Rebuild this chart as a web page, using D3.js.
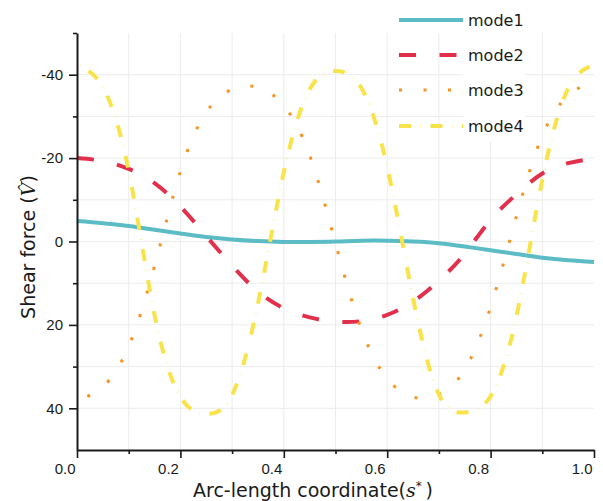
<!DOCTYPE html>
<html>
<head>
<meta charset="utf-8">
<script src="https://cdn.jsdelivr.net/npm/d3@7"></script>
<style>
  html, body { margin: 0; padding: 0; background: #fff; }
  svg { display: block; }
  text { font-family: "DejaVu Sans", sans-serif; fill: #1a1a1a; }
</style>
</head>
<body>
<svg id="chart" width="603" height="501"></svg>
<script>
// Arc-length positions shared by all modes
const arcLength = [0, 0.05, 0.1, 0.15, 0.2, 0.25, 0.3, 0.35, 0.4, 0.45, 0.5,
                   0.55, 0.6, 0.65, 0.7, 0.75, 0.8, 0.85, 0.9, 0.95, 1.0];

// Shear force of each mode shape
const mode1 = [-4.9, -4.4, -3.7, -2.8, -1.9, -1.1, -0.5, -0.1, 0.1, 0.1, 0,
               -0.2, -0.2, 0, 0.4, 1.2, 2.1, 3.0, 3.9, 4.5, 4.9];
const mode2 = [-20, -19.3, -17.4, -14, -8.4, -1.3, 5.8, 12, 16, 18.2, 19.2,
               19.1, 17.6, 14.4, 9.4, 2.9, -5.2, -11.3, -16.3, -18.8, -19.9];
const mode3 = [38, 34.8, 25.1, 5.9, -16.8, -31, -36.5, -37, -32.6, -20.7, 0.4,
               21, 32.9, 37.3, 36.7, 30.7, 15.7, -6.1, -25.4, -35, -38.4];
const mode4 = [-42.3, -37, -16.9, 17.6, 37.3, 41.3, 36.8, 14.9, -16.6, -36.5, -40.9,
               -36.8, -17.9, 13.6, 36.7, 41, 37.1, 18, -14.8, -36.7, -42.3];

const seriesNames = ["mode1", "mode2", "mode3", "mode4"];

// Axis ticks
const xMajorTicks = [0, 0.2, 0.4, 0.6, 0.8, 1.0];
const xMinorTicks = [0.1, 0.3, 0.5, 0.7, 0.9];
const yMajorTicks = [-40, -20, 0, 20, 40];
const yMinorTicks = [-50, -30, -10, 10, 30];
const xGrid = [0.1, 0.2, 0.3, 0.4, 0.5, 0.6, 0.7, 0.8, 0.9];
const yGrid = [-40, -30, -20, -10, 0, 10, 20, 30, 40];

const styles = {
  mode1: { color: "#5bbcc6", width: 4, dash: null, offset: 0 },
  mode2: { color: "#e2304c", width: 4, dash: "17,23.5", offset: 0 },
  mode3: { color: "#f7931e", width: 3, dash: "3,21.5", offset: 13.5 },
  mode4: { color: "#f8e44a", width: 4, dash: "12,9.6,0.3,9.6", offset: 18.5 }
};
const seriesValues = { mode1, mode2, mode3, mode4 };

const svg = d3.select("#chart");
const plotLeft = 77, plotRight = 594, plotTop = 33, plotBottom = 450;

const x = d3.scaleLinear().domain([0, 1]).range([plotLeft, plotRight]);
const y = d3.scaleLinear().domain([-50, 50]).range([plotTop, plotBottom]);

// Grid
const grid = svg.append("g").attr("stroke", "#ececec").attr("stroke-width", 1);
grid.selectAll("line.v").data(xGrid).join("line")
  .attr("class", "v")
  .attr("x1", d => x(d)).attr("x2", d => x(d))
  .attr("y1", plotTop).attr("y2", plotBottom);
grid.selectAll("line.h").data(yGrid).join("line")
  .attr("class", "h")
  .attr("x1", plotLeft).attr("x2", plotRight)
  .attr("y1", d => y(d)).attr("y2", d => y(d));

// Curves
const plot = svg.append("g");
seriesNames.forEach(name => {
  const st = styles[name];
  const pts = arcLength.map((s, i) => [s, seriesValues[name][i]]);
  const line = d3.line().x(d => x(d[0])).y(d => y(d[1])).curve(d3.curveNatural);
  const p = plot.append("path")
    .attr("d", line(pts))
    .attr("fill", "none")
    .attr("stroke", st.color)
    .attr("stroke-width", st.width)
    .attr("stroke-linecap", "butt");
  if (st.dash) p.attr("stroke-dasharray", st.dash).attr("stroke-dashoffset", st.offset);
});

// Axes
function styleAxis(g) {
  g.selectAll(".domain").attr("stroke", "#1a1a1a").attr("stroke-width", 2);
  g.selectAll(".tick line").attr("stroke", "#1a1a1a").attr("stroke-width", 1.6);
  g.selectAll(".tick text")
    .style("font-family", "'Liberation Sans', Arial, sans-serif")
    .style("font-size", "15px").attr("fill", "#1a1a1a");
}

svg.append("g").attr("transform", `translate(0,${plotBottom})`)
  .call(d3.axisBottom(x).tickValues(xMinorTicks).tickSize(4).tickFormat(""))
  .call(styleAxis).call(g => g.select(".domain").remove());
svg.append("g").attr("transform", `translate(0,${plotBottom})`)
  .call(d3.axisBottom(x).tickValues(xMajorTicks).tickSize(8).tickSizeOuter(0)
        .tickPadding(5).tickFormat(d3.format(".1f")))
  .call(styleAxis)
  // labels sit just left of their tick marks
  .call(g => g.selectAll(".tick text").attr("text-anchor", "end").attr("x", -2));

svg.append("g").attr("transform", `translate(${plotLeft},0)`)
  .call(d3.axisLeft(y).tickValues(yMinorTicks).tickSize(4).tickFormat(""))
  .call(styleAxis).call(g => g.select(".domain").remove());
svg.append("g").attr("transform", `translate(${plotLeft},0)`)
  .call(d3.axisLeft(y).tickValues(yMajorTicks).tickSize(8).tickSizeOuter(0)
        .tickPadding(6).tickFormat(d => String(d)))
  .call(styleAxis);

// Axis titles
const xTitle = svg.append("text")
  .attr("x", 313).attr("y", 497)
  .attr("text-anchor", "middle")
  .style("font-size", "19px");
xTitle.append("tspan").text("Arc-length coordinate(");
xTitle.append("tspan").attr("font-family", "DejaVu Serif").attr("font-style", "italic").text("s");
xTitle.append("tspan").attr("dy", -7).style("font-size", "12px").text("*");
xTitle.append("tspan").attr("dy", 7).text("\u2009)");

const yTitle = svg.append("text")
  .attr("transform", "translate(35,247) rotate(-90)")
  .attr("text-anchor", "middle")
  .style("font-size", "19px");
yTitle.append("tspan").text("Shear force (");
yTitle.append("tspan").attr("font-family", "DejaVu Serif").attr("font-style", "italic").text("V\u0302");
yTitle.append("tspan").text(")");

// Legend
const legend = svg.append("g");
legend.append("rect")
  .attr("x", 463).attr("y", plotTop).attr("width", 62).attr("height", 109)
  .attr("fill", "#fff");
const legendY = [20, 55, 90, 126];
seriesNames.forEach((name, i) => {
  const st = styles[name];
  const l = legend.append("line")
    .attr("x1", 399).attr("x2", 463)
    .attr("y1", legendY[i]).attr("y2", legendY[i])
    .attr("stroke", st.color).attr("stroke-width", st.width);
  if (st.dash) l.attr("stroke-dasharray", st.dash);
  legend.append("text")
    .attr("x", 468).attr("y", legendY[i])
    .attr("dy", "0.35em")
    .style("font-size", "16px")
    .text(name);
});
</script>
</body>
</html>
